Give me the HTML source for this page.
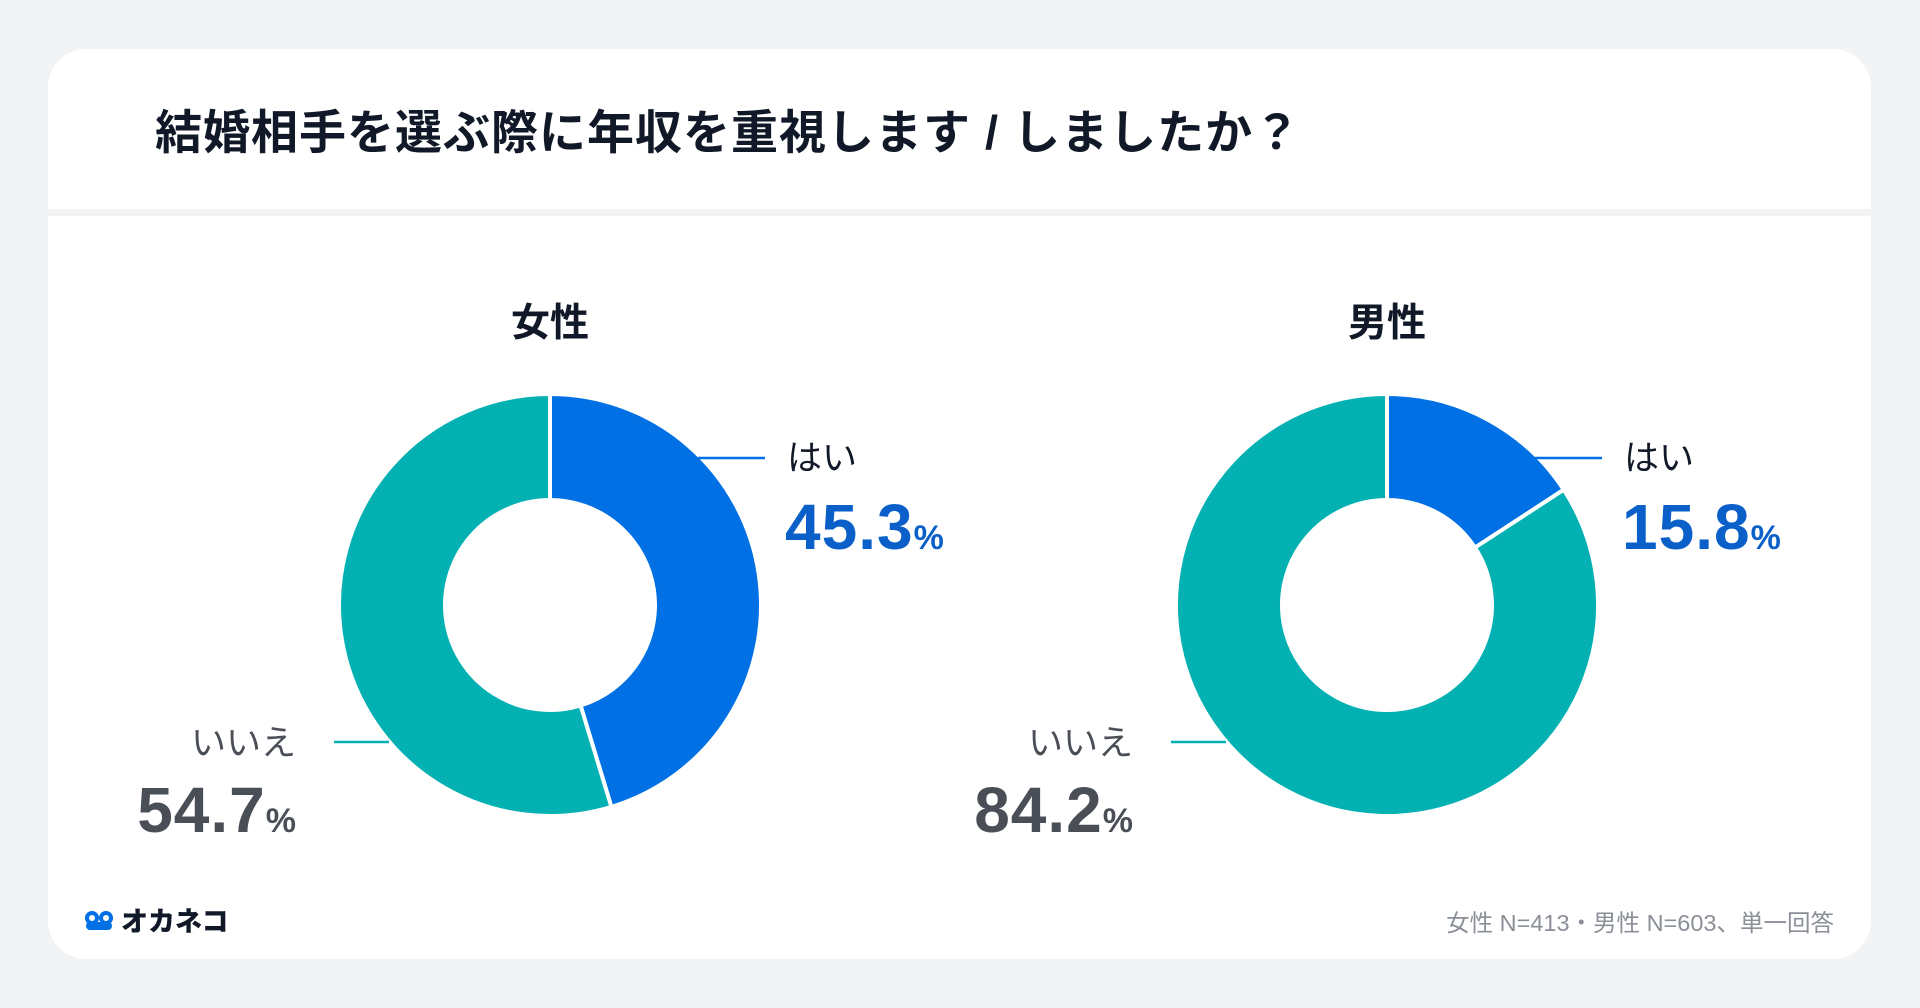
<!DOCTYPE html>
<html><head><meta charset="utf-8"><style>
body{margin:0;width:1920px;height:1008px;background:#f2f3f5;font-family:"Liberation Sans","Noto Sans CJK JP",sans-serif;overflow:hidden;position:relative}
.card{position:absolute;left:48px;top:49px;width:1823px;height:910px;background:#fff;border-radius:38px;overflow:hidden}
.sep{position:absolute;left:0;top:160px;width:1823px;height:7px;background:#f2f3f5}
.t{position:absolute;white-space:nowrap}
</style></head><body>
<div class="card">
<div class="sep"></div>
</div>
<div class="t" style="left:155px;top:104px;font-size:47px;letter-spacing:1px;font-weight:bold;color:#111827;line-height:58px">結婚相手を選ぶ際に年収を重視します / しましたか？</div>
<svg id="chart" width="1920" height="1008" style="position:absolute;left:0;top:0"></svg>
<div class="t" style="left:83px;top:900px;font-size:27px;font-weight:900;color:#111827;display:flex;align-items:center;gap:6px">
<svg width="32" height="24"><circle cx="9" cy="10" r="7" fill="#0070e4"/><circle cx="23" cy="10" r="7" fill="#0070e4"/><circle cx="9" cy="10" r="3" fill="#fff"/><circle cx="23" cy="10" r="3" fill="#fff"/><rect x="3" y="14" width="26" height="8" rx="4" fill="#0070e4"/></svg>オカネコ</div>
<div class="t" style="right:86px;top:904px;font-size:23.5px;color:#8a8f98">女性 N=413・男性 N=603、単一回答</div>
<script>
const groups=["女性","男性"];
const yesValues=[45.3,15.8];
const noValues=[54.7,84.2];
const yesLabel="はい", noLabel="いいえ";
const centersX=[550,1387], cy=605, R=211, r=105;
const svg=document.getElementById('chart');
const NS="http://www.w3.org/2000/svg";
function pt(rad,a){return [rad*Math.sin(a),-rad*Math.cos(a)];}
function arc(cx,a0,a1,fill,name){
 const p=document.createElementNS(NS,'path');
 const large=(a1-a0)>Math.PI?1:0;
 const [x0,y0]=pt(R,a0),[x1,y1]=pt(R,a1),[x2,y2]=pt(r,a1),[x3,y3]=pt(r,a0);
 p.setAttribute('d',`M${cx+x0},${cy+y0}A${R},${R} 0 ${large} 1 ${cx+x1},${cy+y1}L${cx+x2},${cy+y2}A${r},${r} 0 ${large} 0 ${cx+x3},${cy+y3}Z`);
 p.setAttribute('fill',fill);p.setAttribute('stroke','#fff');p.setAttribute('stroke-width','4');
 
 
 svg.appendChild(p);
}
function txt(x,y,s,size,fill,weight,anchor,name,ls){
 const t=document.createElementNS(NS,'text');
 t.setAttribute('x',x);t.setAttribute('y',y);t.setAttribute('font-size',size);t.setAttribute('fill',fill);
 t.setAttribute('font-weight',weight);t.setAttribute('text-anchor',anchor);t.innerHTML=s;
 if(ls)t.setAttribute('letter-spacing',ls);
 
 
 svg.appendChild(t);
}
function line(x1,x2,y,c,name){
 const l=document.createElementNS(NS,'line');
 l.setAttribute('x1',x1);l.setAttribute('x2',x2);l.setAttribute('y1',y);l.setAttribute('y2',y);
 l.setAttribute('stroke',c);l.setAttribute('stroke-width','2.5');
 
 
 svg.appendChild(l);
}
groups.forEach((g,i)=>{
 const cx=centersX[i];
 const tot=yesValues[i]+noValues[i];
 const ay=yesValues[i]/tot*2*Math.PI;
 arc(cx,0,ay,'#0070e4','slice-yes-'+i);
 arc(cx,ay,2*Math.PI,'#03b1b3','slice-no-'+i);
 txt(cx,336,g,39,'#111827','bold','middle','group-title-'+i);
 line(cx+148,cx+215,458,'#0070e4','leader-yes-'+i);
 txt(cx+237,470,yesLabel,35,'#111827','normal','start','label-yes-'+i);
 txt(cx+235,549,yesValues[i].toFixed(1)+'<tspan font-size="34" letter-spacing="0">%</tspan>',64,'#0a5fc8','bold','start','value-yes-'+i,'1');
 line(cx-216,cx-161,742,'#03b1b3','leader-no-'+i);
 txt(cx-254,755,noLabel,35,'#4a4f57','normal','end','label-no-'+i);
 txt(cx-254,832,noValues[i].toFixed(1)+'<tspan font-size="34" letter-spacing="0">%</tspan>',64,'#4a4f57','bold','end','value-no-'+i,'1');
});
</script>
</body></html>
